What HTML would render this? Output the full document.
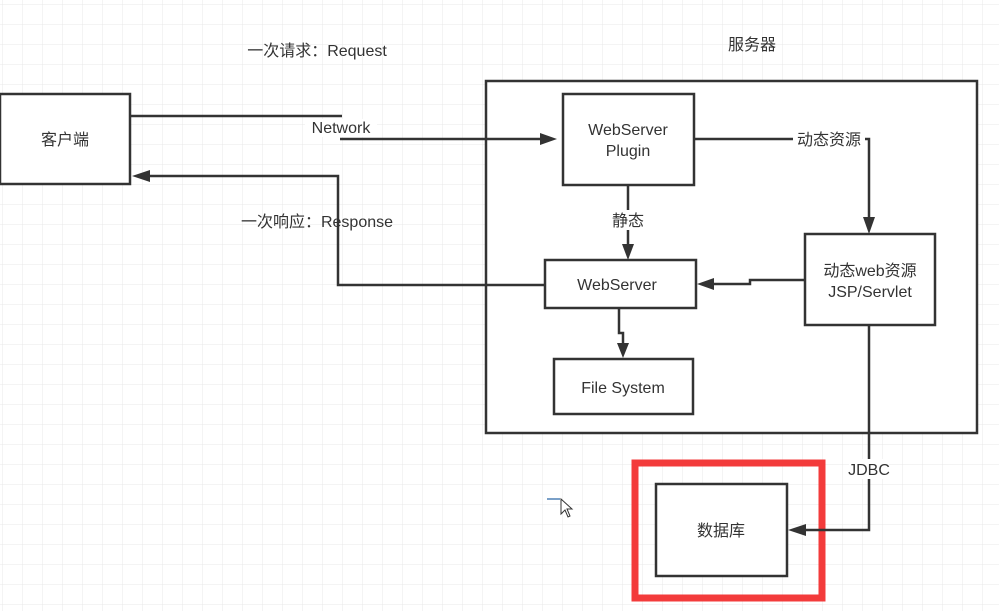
<!DOCTYPE html>
<html><head><meta charset="utf-8"><style>
body{margin:0;background:#fff}
svg text{font-family:"Liberation Sans","Noto Sans CJK SC",sans-serif;font-size:16px;fill:#333}
</style></head><body>
<svg width="999" height="611" xmlns="http://www.w3.org/2000/svg">
<defs>
<pattern id="g" width="20" height="20" patternUnits="userSpaceOnUse" x="3" y="5">
<path d="M20 0V20M0 20H20" fill="none" stroke="#e8e8e8" stroke-width="1"/>
</pattern>
</defs>
<rect width="999" height="611" fill="url(#g)"/>
<g fill="#fff" stroke="#333" stroke-width="2.5">
<rect x="0" y="94" width="130" height="90"/>
<rect x="486" y="81" width="491" height="352"/>
<rect x="563" y="94" width="131" height="91"/>
<rect x="545" y="260" width="151" height="48"/>
<rect x="805" y="234" width="130" height="91"/>
<rect x="554" y="359" width="139" height="55"/>
<rect x="656" y="484" width="131" height="92"/>
</g>
<rect x="635" y="463" width="187" height="135" fill="none" stroke="#f33b3b" stroke-width="7"/>
<g fill="none" stroke="#333" stroke-width="2.5">
<path d="M130 116H342"/>
<path d="M340 139H545"/>
<path d="M150 176H338V285H545"/>
<path d="M628 185V245"/>
<path d="M694 139H869V218"/>
<path d="M805 280H750V284H712"/>
<path d="M619 308V333H623V345"/>
<path d="M869 325V530H803"/>
</g>
<g fill="#333">
<polygon points="557,139 540,133 540,145"/>
<polygon points="132,176 150,170 150,182"/>
<polygon points="628,260 622,244 634,244"/>
<polygon points="869,234 863,217 875,217"/>
<polygon points="697,284 714,278 714,290"/>
<polygon points="623,358 617,343 629,343"/>
<polygon points="788,530 806,524 806,536"/>
</g>
<rect x="305" y="119" width="72" height="18" fill="#fff"/>
<rect x="793" y="130" width="72" height="18" fill="#fff"/>
<rect x="608" y="210" width="40" height="20" fill="#fff"/>
<rect x="849" y="459" width="40" height="20" fill="#fff"/>
<text x="317" y="56" text-anchor="middle">一次请求：Request</text>
<text x="752" y="50" text-anchor="middle">服务器</text>
<text x="65" y="145" text-anchor="middle">客户端</text>
<text x="341" y="133" text-anchor="middle">Network</text>
<text x="317" y="227" text-anchor="middle">一次响应：Response</text>
<text x="628" y="135" text-anchor="middle">WebServer</text>
<text x="628" y="156" text-anchor="middle">Plugin</text>
<text x="829" y="145" text-anchor="middle">动态资源</text>
<text x="628" y="226" text-anchor="middle">静态</text>
<text x="617" y="290" text-anchor="middle">WebServer</text>
<text x="870" y="276" text-anchor="middle">动态web资源</text>
<text x="870" y="297" text-anchor="middle">JSP/Servlet</text>
<text x="623" y="393" text-anchor="middle">File System</text>
<text x="869" y="475" text-anchor="middle">JDBC</text>
<text x="721" y="536" text-anchor="middle">数据库</text>
<path d="M547 499H560" stroke="#7aa0c8" stroke-width="2"/>
<path d="M561 499V514L565 510L568 517L570 516L567 509L572 509Z" fill="#fff" stroke="#333" stroke-width="1"/>
</svg>
</body></html>
